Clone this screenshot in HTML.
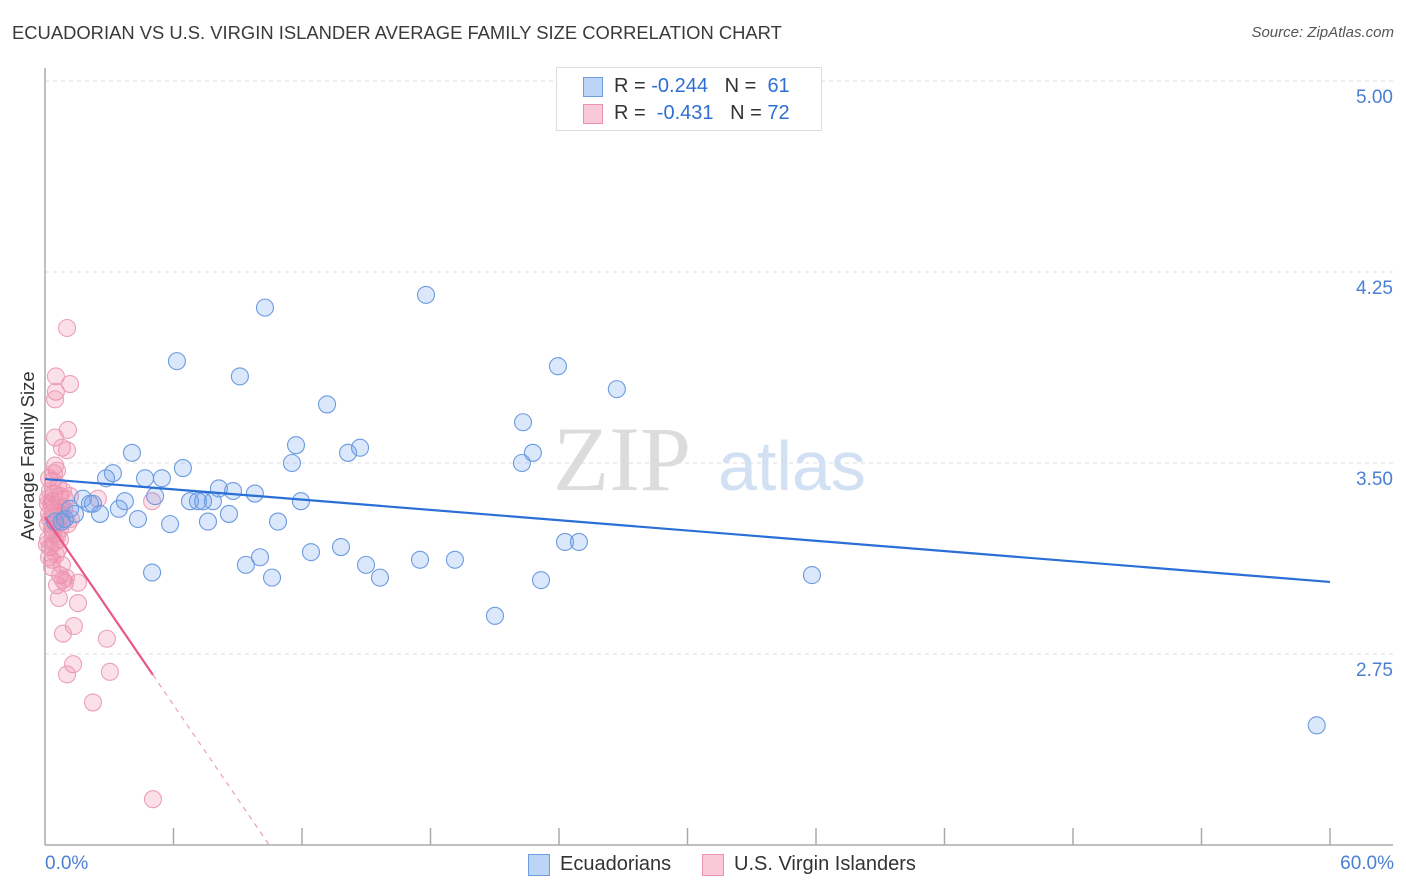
<!DOCTYPE html>
<html><head><meta charset="utf-8">
<style>
body{margin:0;background:#fff;font-family:"Liberation Sans",sans-serif;}
#wrap{position:relative;width:1406px;height:892px;overflow:hidden;}
.t{position:absolute;white-space:nowrap;}
</style></head>
<body>
<div id="wrap">
<div class="t" style="left:12px;top:22px;font-size:18.4px;color:#3a3a3a;">ECUADORIAN VS U.S. VIRGIN ISLANDER AVERAGE FAMILY SIZE CORRELATION CHART</div>
<div class="t" style="right:12px;top:24px;font-size:15px;color:#555;font-style:italic;">Source: ZipAtlas.com</div>
<svg id="plot" width="1406" height="892" style="position:absolute;left:0;top:0"></svg>
</div>
<script>
const blueX=[2.85,3.17,4.06,4.67,5.46,6.44,6.16,9.10,10.27,13.17,11.72,11.53,14.15,14.71,17.79,23.95,26.70,22.32,22.78,22.27,1.77,2.24,2.57,1.40,0.79,0.93,3.45,3.73,4.34,5.14,5.84,6.77,7.14,7.38,7.84,8.12,8.78,9.80,8.59,7.61,10.88,11.95,9.38,10.04,10.60,12.42,13.82,14.99,15.64,17.51,19.14,23.16,24.28,24.93,21.01,35.81,5.00,59.38,0.47,1.17,2.10];
const blueY=[3.44,3.46,3.54,3.44,3.44,3.48,3.90,3.84,4.11,3.73,3.57,3.50,3.54,3.56,4.16,3.88,3.79,3.66,3.54,3.50,3.36,3.34,3.30,3.30,3.27,3.28,3.32,3.35,3.28,3.37,3.26,3.35,3.35,3.35,3.35,3.40,3.39,3.38,3.30,3.27,3.27,3.35,3.10,3.13,3.05,3.15,3.17,3.10,3.05,3.12,3.12,3.04,3.19,3.19,2.90,3.06,3.07,2.47,3.27,3.32,3.34];
const pinkX=[1.03,0.51,1.17,0.51,0.47,1.07,0.47,0.79,1.03,0.47,0.56,0.19,0.42,0.70,0.33,0.93,1.17,2.47,5.00,0.14,0.37,0.61,0.23,0.51,0.79,1.07,0.33,0.14,0.47,0.70,0.23,0.61,0.33,0.70,0.56,0.84,0.93,1.54,0.65,1.54,1.35,0.84,2.89,1.31,1.03,3.03,2.24,5.04,0.37,0.61,0.23,0.84,0.19,0.47,0.75,0.37,0.56,0.19,0.33,0.79,0.98,0.14,0.28,0.65,0.89,0.09,0.42,0.79,1.21,0.51,0.14,0.70];
const pinkY=[4.03,3.84,3.81,3.78,3.75,3.63,3.60,3.56,3.55,3.49,3.47,3.44,3.38,3.37,3.35,3.36,3.37,3.36,3.35,3.34,3.32,3.31,3.28,3.26,3.27,3.26,3.24,3.20,3.19,3.20,3.17,3.16,3.09,3.06,3.02,3.04,3.03,3.03,2.97,2.95,2.86,2.83,2.81,2.71,2.67,2.68,2.56,2.18,3.43,3.41,3.39,3.39,3.30,3.29,3.29,3.22,3.21,3.13,3.12,3.10,3.05,3.26,3.34,3.33,3.32,3.18,3.46,3.33,3.28,3.14,3.36,3.24];
const yTicks=[5.00,4.25,3.50,2.75];
const yTickLabels=["5.00","4.25","3.50","2.75"];
const blueTrend=[3.437,3.033]; // at x=0 and x=60
const pinkTrend=[3.288,-0.123]; // intercept, slope per %
const pinkSolidEnd=5.04;

const NS="http://www.w3.org/2000/svg";
const svg=document.getElementById('plot');
const X=v=>45+v*(1285/60);
const Y=v=>463-(v-3.5)*254.7;
const yMin=3.5-(845-463)/254.7;
function mk(tag,attrs,parent){const e=document.createElementNS(NS,tag);for(const k in attrs)e.setAttribute(k,attrs[k]);(parent||svg).appendChild(e);return e;}

yTicks.forEach((v,i)=>{
  const g=mk('line',{x1:45,x2:1393,y1:Y(v),y2:Y(v),stroke:'#dcdcdc','stroke-dasharray':'4,4'});
  
  
  const t=mk('text',{x:1393,y:Y(v)+22,'text-anchor':'end','font-size':19,fill:'#4a7fd4','font-family':'Liberation Sans'});
  t.textContent=yTickLabels[i];
  
  
});
const wm=mk('text',{x:553,y:490,'font-size':92,fill:'#dcdcdc','font-family':'Liberation Serif'});wm.textContent='ZIP';


const wm2=mk('text',{x:718,y:490,'font-size':70,fill:'#d2e0f4','font-family':'Liberation Sans'});wm2.textContent='atlas';


const ax=mk('line',{x1:45,x2:45,y1:68,y2:845,stroke:'#aaa','stroke-width':1.5});


const bx=mk('line',{x1:45,x2:1393,y1:845,y2:845,stroke:'#aaa','stroke-width':1.5});


for(let i=1;i<=10;i++){const tk=mk('line',{x1:X(i*6),x2:X(i*6),y1:828,y2:845,stroke:'#aaa','stroke-width':1.5});

}
function pts(xs,ys,fill,stroke,name){xs.forEach((x,i)=>{const c=mk('circle',{cx:X(x),cy:Y(ys[i]),r:8.5,fill:fill,stroke:stroke,'stroke-width':1.1});

});}
pts(pinkX,pinkY,'rgba(240,130,165,0.25)','#eba0b9','point-virgin-islander');
pts(blueX,blueY,'rgba(110,160,235,0.25)','#6c9be0','point-ecuadorian');
const bl=mk('line',{x1:X(0),y1:Y(blueTrend[0]),x2:X(60),y2:Y(blueTrend[1]),stroke:'#2a6fd6','stroke-width':2.2});


const pe=(yMin-pinkTrend[0])/pinkTrend[1];
const pl=mk('line',{x1:X(0),y1:Y(pinkTrend[0]),x2:X(pinkSolidEnd),y2:Y(pinkTrend[0]+pinkTrend[1]*pinkSolidEnd),stroke:'#e8578a','stroke-width':2.2});


const pd=mk('line',{x1:X(pinkSolidEnd),y1:Y(pinkTrend[0]+pinkTrend[1]*pinkSolidEnd),x2:X(pe),y2:Y(yMin),stroke:'#e8a0b8','stroke-width':1.2,'stroke-dasharray':'5,5'});


</script>
<div class="t" style="left:-62px;top:445px;font-size:18.5px;color:#333;transform:rotate(-90deg);width:180px;text-align:center;">Average Family Size</div>
<div class="t" style="left:45px;top:853px;font-size:19px;color:#4a7fd4;">0.0%</div>
<div class="t" style="right:12px;top:853px;font-size:19px;color:#4a7fd4;">60.0%</div>
<div style="position:absolute;left:556px;top:67px;width:264px;height:62px;border:1px solid #ddd;background:#fff;font-size:20px;color:#333;">
  <div style="position:absolute;left:26px;top:9px;width:18px;height:18px;background:#bcd4f5;border:1px solid #6f9ee0;"></div>
  <div class="t" style="left:57px;top:7px;">R = <span style="color:#2f6fd3">-0.244</span>&nbsp;&nbsp;&nbsp;N = &nbsp;<span style="color:#2f6fd3">61</span></div>
  <div style="position:absolute;left:26px;top:36px;width:18px;height:18px;background:#f9c9d8;border:1px solid #eb92b0;"></div>
  <div class="t" style="left:57px;top:34px;">R = &nbsp;<span style="color:#2f6fd3">-0.431</span>&nbsp;&nbsp;&nbsp;N = <span style="color:#2f6fd3">72</span></div>
</div>
<div style="position:absolute;left:528px;top:853px;font-size:20px;color:#333;">
  <div style="position:absolute;left:0;top:1px;width:20px;height:20px;background:#bcd4f5;border:1px solid #6f9ee0;"></div>
  <div class="t" style="left:32px;top:0;">Ecuadorians</div>
</div>
<div style="position:absolute;left:702px;top:853px;font-size:20px;color:#333;">
  <div style="position:absolute;left:0;top:1px;width:20px;height:20px;background:#f9c9d8;border:1px solid #eb92b0;"></div>
  <div class="t" style="left:32px;top:0;">U.S. Virgin Islanders</div>
</div>
</body></html>
